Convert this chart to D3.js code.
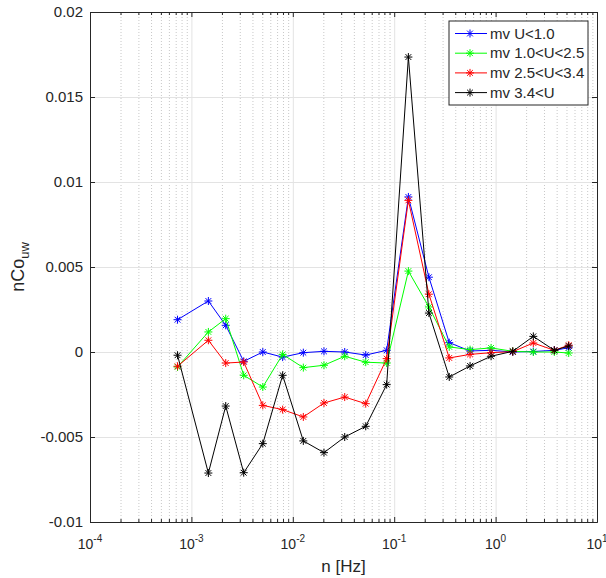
<!DOCTYPE html>
<html>
<head>
<meta charset="utf-8">
<script src="https://cdn.jsdelivr.net/npm/d3@7/dist/d3.min.js"></script>
<style>
  body { margin: 0; background: #fff; }
  text { font-family: "Liberation Sans", Arial, sans-serif; fill: #262626; }
</style>
</head>
<body>
<div id="chart"></div>
<script>
// frequencies [Hz]
var freq = [7.3e-4, 1.47e-3, 2.18e-3, 3.28e-3, 5.06e-3, 7.94e-3, 1.27e-2, 2.03e-2, 3.25e-2, 5.24e-2,
            8.43e-2, 0.138, 0.22, 0.349, 0.56, 0.902, 1.476, 2.355, 3.793, 5.26];

var seriesNames = ["mv U<1.0", "mv 1.0<U<2.5", "mv 2.5<U<3.4", "mv 3.4<U"];
var seriesColors = ["#0000ff", "#00ff00", "#ff0000", "#000000"];

var vBlue  = [0.0019, 0.0030, 0.00157, -0.00055, 0.0, -0.0003, -0.00004, 0.00004, 0.0, -0.00018,
              0.0001, 0.00912, 0.0044, 0.00055, 0.00006, 0.0001, 0.0, 0.00003, 0.0001, 0.00025];
var vGreen = [-0.00088, 0.00118, 0.00196, -0.00137, -0.00206, -0.00014, -0.00092, -0.00078, -0.00025, -0.0006,
              -0.00065, 0.00476, 0.00265, 0.0003, 0.00014, 0.00024, 0.00004, 0.0, 0.0, -0.00006];
var vRed   = [-0.00084, 0.00069, -0.00065, -0.00059, -0.00314, -0.00339, -0.00382, -0.003, -0.00265, -0.00304,
              -0.00039, 0.00892, 0.0034, -0.00035, -0.00014, -0.00004, 0.00002, 0.00053, 0.0001, 0.0004];
var vBlack = [-0.00019, -0.00712, -0.00318, -0.0071, -0.00539, -0.00137, -0.00523, -0.00592, -0.005, -0.00437,
              -0.00192, 0.01735, 0.00229, -0.00147, -0.00082, -0.00025, 0.00004, 0.00092, 0.0001, 0.00035];

var xTicks = [1e-4, 1e-3, 1e-2, 1e-1, 1e0, 1e1];
var xTickExp = ["-4", "-3", "-2", "-1", "0", "1"];
var yTicks = [-0.01, -0.005, 0, 0.005, 0.01, 0.015, 0.02];
var yTickLabels = ["-0.01", "-0.005", "0", "0.005", "0.01", "0.015", "0.02"];

var allSeries = [vBlue, vGreen, vRed, vBlack];

var margin = {top: 12, right: 9, bottom: 56, left: 90},
    width = 606 - margin.left - margin.right,
    height = 578 - margin.top - margin.bottom;

var x = d3.scaleLog().domain([1e-4, 1e1]).range([0, width]);
var y = d3.scaleLinear().domain([-0.01, 0.02]).range([height, 0]);

var svg = d3.select("#chart").append("svg")
    .attr("width", 606)
    .attr("height", 578)
  .append("g")
    .attr("transform", "translate(" + margin.left + "," + margin.top + ")");

// minor ticks at 2..9 of each decade
var minorTicks = x.ticks().filter(function(t) {
  var m = t / Math.pow(10, Math.floor(Math.log10(t) + 1e-9));
  return Math.abs(m - 1) > 1e-6;
});

// grid
svg.append("g")
    .attr("transform", "translate(0," + height + ")")
    .call(d3.axisBottom(x).tickValues(minorTicks).tickSize(-height).tickFormat(""))
    .call(function(g) { g.select(".domain").remove(); })
    .selectAll("line")
    .attr("stroke", "#c8c8c8")
    .attr("stroke-dasharray", "1,2");

svg.append("g")
    .attr("transform", "translate(0," + height + ")")
    .call(d3.axisBottom(x).tickValues(xTicks).tickSize(-height).tickFormat(""))
    .call(function(g) { g.select(".domain").remove(); })
    .selectAll("line")
    .attr("stroke", "#e3e3e3");

svg.append("g")
    .call(d3.axisLeft(y).tickValues(yTicks).tickSize(-width).tickFormat(""))
    .call(function(g) { g.select(".domain").remove(); })
    .selectAll("line")
    .attr("stroke", "#e3e3e3");

// series
var line = d3.line()
    .x(function(d, i) { return x(freq[i]); })
    .y(function(d) { return y(d); });

var r = 4;
var star = "M" + (-r) + ",0H" + r + "M0," + (-r) + "V" + r +
           "M" + (-r * 0.72) + "," + (-r * 0.72) + "L" + (r * 0.72) + "," + (r * 0.72) +
           "M" + (-r * 0.72) + "," + (r * 0.72) + "L" + (r * 0.72) + "," + (-r * 0.72);

allSeries.forEach(function(vals, k) {
  var col = seriesColors[k];
  svg.append("path")
      .datum(vals)
      .attr("fill", "none")
      .attr("stroke", col)
      .attr("stroke-width", 1)
      .attr("d", line);

  svg.append("g").selectAll("path")
      .data(vals)
      .enter().append("path")
      .attr("transform", function(d, i) { return "translate(" + x(freq[i]) + "," + y(d) + ")"; })
      .attr("stroke", col)
      .attr("stroke-width", 1)
      .attr("d", star);
});

// axes (ticks inward, box)
var axCol = "#262626";
function styleAxis(g) {
  g.select(".domain").attr("stroke", axCol);
  g.selectAll("line").attr("stroke", axCol);
}

svg.append("g")
    .attr("transform", "translate(0," + height + ")")
    .call(d3.axisBottom(x).tickValues(xTicks).tickSizeInner(-5).tickSizeOuter(0).tickFormat(""))
    .call(styleAxis);
svg.append("g")
    .attr("transform", "translate(0," + height + ")")
    .call(d3.axisBottom(x).tickValues(minorTicks).tickSizeInner(-3).tickSizeOuter(0).tickFormat(""))
    .call(styleAxis);
svg.append("g")
    .call(d3.axisTop(x).tickValues(xTicks).tickSizeInner(-5).tickSizeOuter(0).tickFormat(""))
    .call(styleAxis);
svg.append("g")
    .call(d3.axisTop(x).tickValues(minorTicks).tickSizeInner(-3).tickSizeOuter(0).tickFormat(""))
    .call(styleAxis);
svg.append("g")
    .call(d3.axisLeft(y).tickValues(yTicks).tickSizeInner(-5).tickSizeOuter(0)
      .tickFormat(function(d, i) { return yTickLabels[i]; }))
    .call(styleAxis)
    .selectAll("text")
    .attr("x", -7)
    .style("font-size", "15px")
    .style("font-family", "'Liberation Sans', Arial, sans-serif")
    .attr("fill", axCol);
svg.append("g")
    .attr("transform", "translate(" + width + ",0)")
    .call(d3.axisRight(y).tickValues(yTicks).tickSizeInner(-5).tickSizeOuter(0).tickFormat(""))
    .call(styleAxis);

// x tick labels as 10^n
var xl = svg.append("g").selectAll("text")
    .data(xTicks)
    .enter().append("text")
    .attr("x", function(d) { return x(d); })
    .attr("y", height + 27)
    .attr("text-anchor", "middle")
    .style("font-size", "14px");
xl.append("tspan").text("10");
xl.append("tspan")
    .attr("dy", -7)
    .style("font-size", "10px")
    .text(function(d, i) { return xTickExp[i]; });

// axis titles
svg.append("text")
    .attr("x", width / 2)
    .attr("y", height + 50)
    .attr("text-anchor", "middle")
    .style("font-size", "17px")
    .text("n [Hz]");

var yl = svg.append("text")
    .attr("transform", "translate(" + (24 - margin.left) + "," + (height / 2) + ") rotate(-90)")
    .attr("text-anchor", "middle")
    .style("font-size", "18px");
yl.append("tspan").text("nCo");
yl.append("tspan")
    .attr("dy", 5)
    .style("font-size", "13px")
    .text("uw");

// legend
var lg = svg.append("g").attr("transform", "translate(" + (449 - margin.left) + "," + (21 - margin.top) + ")");
lg.append("rect")
    .attr("width", 139)
    .attr("height", 84)
    .attr("fill", "#fff")
    .attr("stroke", axCol)
    .attr("stroke-width", 1);
seriesNames.forEach(function(name, k) {
  var yy = 12.5 + k * 19.7;
  lg.append("line")
      .attr("x1", 6).attr("x2", 38)
      .attr("y1", yy).attr("y2", yy)
      .attr("stroke", seriesColors[k]);
  lg.append("path")
      .attr("transform", "translate(21," + yy + ")")
      .attr("stroke", seriesColors[k])
      .attr("d", star);
  lg.append("text")
      .attr("x", 41)
      .attr("y", yy + 5)
      .style("font-size", "15px")
      .text(name);
});
</script>
</body>
</html>
